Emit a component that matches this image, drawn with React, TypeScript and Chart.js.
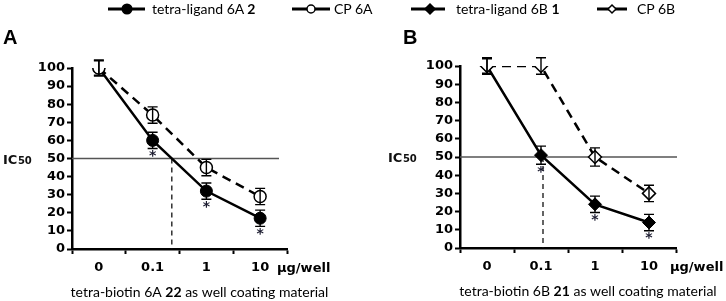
import React, { useEffect, useRef } from 'react';
import { Chart, registerables } from 'chart.js';
Chart.register(...registerables);

// ---- data ----
const categories = ['0', '0.1', '1', '10'];
const ligand6A = [100, 60, 32, 17];
const ligand6AErr = [4, 4.5, 4.5, 4.5];
const cp6A = [100, 74, 45, 29];
const cp6AErr = [4.5, 4.5, 4.5, 4.5];
const ligand6B = [100, 51, 24, 14];
const ligand6BErr = [4, 5, 4.5, 4.5];
const cp6B = [100, 100, 50, 30];
const cp6BErr = [4.5, 4.5, 5, 4.5];
const sig6A = [false, true, true, true];
const sig6B = [false, true, true, true];
const IC50 = 50;
const yMin = 0;
const yMax = 100;
const yStep = 10;
const unitLabel = 'µg/well';
const titleA = ['tetra-biotin 6A ', '22', ' as well coating material'];
const titleB = ['tetra-biotin 6B ', '21', ' as well coating material'];
const legendItems = [
  { text: 'tetra-ligand 6A ', bold: '2', shape: 'circle', filled: true },
  { text: 'CP 6A', bold: '', shape: 'circle', filled: false },
  { text: 'tetra-ligand 6B ', bold: '1', shape: 'diamond', filled: true },
  { text: 'CP 6B', bold: '', shape: 'diamond', filled: false },
];

// ---- layout (styles / positions) ----
const legendMarkerLeft = [108, 292, 411, 597];
const legendMarkerWidth = [37, 38, 34, 30];
const legendMarkerCenter = [19, 19, 19, 15];
const legendTextLeft = [152, 334, 456, 637];
const TICK_FONT = { family: 'DejaVu Sans', size: 13, weight: 'bold' as const };

function crossingIndex(vals: number[], level: number) {
  for (let i = 0; i < vals.length - 1; i++) {
    if (vals[i] >= level && vals[i + 1] < level) {
      return i + (vals[i] - level) / (vals[i] - vals[i + 1]);
    }
  }
  return 0;
}

function drawParts(ctx: CanvasRenderingContext2D, parts: string[], cx: number, cy: number, size: number) {
  const fonts = parts.map((_, i) => `${i === 1 ? 'bold ' : ''}${size}px Lato`);
  const widths = parts.map((p, i) => { ctx.font = fonts[i]; return ctx.measureText(p).width; });
  const total = widths.reduce((a, b) => a + b, 0);
  let x = cx - total / 2;
  ctx.textBaseline = 'middle';
  ctx.textAlign = 'left';
  parts.forEach((p, i) => { ctx.font = fonts[i]; ctx.fillText(p, x, cy); x += widths[i]; });
}

function makeDecor(cfg: any) {
  return {
    id: 'decor',
    beforeDatasetsDraw(chart: any) {
      const { ctx, chartArea: a, scales } = chart;
      const x = scales.x, y = scales.y;
      const yy = y.getPixelForValue(IC50);
      ctx.save();
      ctx.strokeStyle = '#555';
      ctx.lineWidth = 1.5;
      ctx.beginPath();
      ctx.moveTo(a.left, yy);
      ctx.lineTo(a.right + cfg.icExtra, yy);
      ctx.stroke();
      const xx = x.getPixelForValue(crossingIndex(cfg.solid, IC50));
      ctx.setLineDash([5, 4]);
      ctx.lineWidth = 1.3;
      ctx.strokeStyle = '#111';
      ctx.beginPath();
      ctx.moveTo(xx, yy);
      ctx.lineTo(xx, a.bottom);
      ctx.stroke();
      ctx.restore();
    },
    afterDatasetsDraw(chart: any) {
      const { ctx, chartArea: a, scales } = chart;
      const y = scales.y;
      ctx.save();
      ctx.strokeStyle = '#000';
      ctx.lineWidth = 1.4;
      chart.data.datasets.forEach((ds: any, di: number) => {
        const meta = chart.getDatasetMeta(di);
        meta.data.forEach((pt: any, i: number) => {
          const v = ds.data[i];
          const e = ds.errors[i];
          const top = y.getPixelForValue(v + e);
          const bot = y.getPixelForValue(v - e);
          ctx.beginPath();
          ctx.moveTo(pt.x, top); ctx.lineTo(pt.x, bot);
          ctx.moveTo(pt.x - 5, top); ctx.lineTo(pt.x + 5, top);
          ctx.moveTo(pt.x - 5, bot); ctx.lineTo(pt.x + 5, bot);
          ctx.stroke();
        });
      });
      // asterisks (solid series = dataset 1)
      const m0 = chart.getDatasetMeta(1);
      const ds0 = chart.data.datasets[1];
      ctx.fillStyle = '#1a1a2e';
      ctx.font = 'bold 14px "DejaVu Sans"';
      ctx.textAlign = 'center';
      ctx.textBaseline = 'top';
      cfg.sig.forEach((s: boolean, i: number) => {
        if (!s) return;
        const pt = m0.data[i];
        const bot = y.getPixelForValue(ds0.data[i] - ds0.errors[i]);
        ctx.fillText('*', pt.x, bot + 1);
      });
      // texts
      ctx.fillStyle = '#000';
      ctx.textAlign = 'left';
      ctx.textBaseline = 'alphabetic';
      ctx.font = 'bold 20px "Liberation Sans"';
      ctx.fillText(cfg.letter, cfg.letterX, 44);
      const yy = y.getPixelForValue(IC50);
      ctx.fillStyle = '#111';
      ctx.font = 'bold 13px "DejaVu Sans"';
      ctx.fillText('IC', cfg.icX, yy + 5);
      const w = ctx.measureText('IC').width;
      ctx.font = 'bold 10px "DejaVu Sans"';
      ctx.fillText('50', cfg.icX + w + 0.5, yy + 5);
      ctx.fillStyle = '#000';
      ctx.textBaseline = 'middle';
      ctx.font = 'bold 13px "DejaVu Sans"';
      ctx.fillText(unitLabel, a.right + cfg.unitDx, a.bottom + 20);
      drawParts(ctx, cfg.title, (a.left + a.right) / 2 + 20, a.bottom + 43, 14);
      ctx.restore();
    },
  };
}

function buildChart(canvas: HTMLCanvasElement, solid: number[], solidErr: number[], dashed: number[], dashedErr: number[], diamond: boolean, cfg: any) {
  const style = diamond ? 'rectRot' : 'circle';
  return new Chart(canvas, {
    type: 'line',
    data: {
      labels: categories,
      datasets: [
        {
          data: dashed, errors: dashedErr,
          borderColor: '#000', borderWidth: 2.5, borderDash: [9, 6], backgroundColor: '#fff',
          pointStyle: style, pointRadius: diamond ? 6.5 : 6, pointBackgroundColor: '#fff', pointBorderColor: '#000', pointBorderWidth: 1.5,
          tension: 0,
        } as any,
        {
          data: solid, errors: solidErr,
          borderColor: '#000', borderWidth: 2.5, backgroundColor: '#000',
          pointStyle: style, pointRadius: diamond ? 6.5 : 6, pointBackgroundColor: '#000', pointBorderColor: '#000', pointBorderWidth: 1,
          tension: 0,
        } as any,
      ],
    },
    options: {
      animation: false,
      responsive: false,
      events: [],
      layout: { padding: { left: 0, right: cfg.padRight, top: cfg.padTop, bottom: 0 } },
      plugins: { legend: { display: false }, tooltip: { enabled: false }, title: { display: false } },
      scales: {
        x: {
          type: 'category',
          offset: true,
          grid: { offset: true, drawOnChartArea: false, drawTicks: true, tickLength: 5, tickColor: '#000', tickWidth: 2 },
          border: { color: '#000', width: 2.5 },
          ticks: { color: '#000', font: TICK_FONT, padding: 6, maxRotation: 0, autoSkip: false },
          afterFit: (s: any) => { s.height = cfg.xHeight; },
        },
        y: {
          min: yMin, max: yMax,
          grid: { drawOnChartArea: false, drawTicks: true, tickLength: 5, tickColor: '#000', tickWidth: 2 },
          border: { color: '#000', width: 2.5 },
          ticks: { stepSize: yStep, color: '#000', font: TICK_FONT, padding: 2, autoSkip: false },
          afterFit: (s: any) => { s.width = cfg.yWidth; },
        },
      },
    } as any,
    plugins: [makeDecor({ ...cfg, solid })],
  });
}

function Marker({ shape, filled, w, c }: { shape: string; filled: boolean; w: number; c: number }) {
  const h = filled ? 5 : 4;
  return (
    <svg width={w} height={14} style={{ display: 'block' }}>
      <line x1={0} y1={7} x2={w} y2={7} stroke="#000" strokeWidth={3} />
      {shape === 'circle' ? (
        <circle cx={c} cy={7} r={filled ? 4.8 : 4} fill={filled ? '#000' : '#fff'} stroke="#000" strokeWidth={1.5} />
      ) : (
        <polygon points={`${c},${7 - h} ${c + h},7 ${c},${7 + h} ${c - h},7`} fill={filled ? '#000' : '#fff'} stroke="#000" strokeWidth={1.5} />
      )}
    </svg>
  );
}

export default function App() {
  const refA = useRef<HTMLCanvasElement>(null);
  const refB = useRef<HTMLCanvasElement>(null);
  useEffect(() => {
    const a = buildChart(refA.current!, ligand6A, ligand6AErr, cp6A, cp6AErr, false, {
      padRight: 76, padTop: 68, xHeight: 52, yWidth: 72, letter: 'A', letterX: 3, icX: 3, icExtra: -8, unitDx: -10, sig: sig6A, title: titleA,
    });
    const b = buildChart(refB.current!, ligand6B, ligand6BErr, cp6B, cp6BErr, true, {
      padRight: 50, padTop: 66, xHeight: 53, yWidth: 97, letter: 'B', letterX: 40, icX: 25, icExtra: 1, unitDx: -6, sig: sig6B, title: titleB,
    });
    return () => { a.destroy(); b.destroy(); };
  }, []);
  return (
    <div style={{ position: 'fixed', left: 0, top: 0, width: 726, height: 301, background: '#fff', overflow: 'hidden' }}>
      <canvas ref={refA} width={363} height={301} style={{ position: 'absolute', left: 0, top: 0 }} />
      <canvas ref={refB} width={363} height={301} style={{ position: 'absolute', left: 363, top: 0 }} />
      {legendItems.map((it, i) => (
        <React.Fragment key={i}>
          <div style={{ position: 'absolute', left: legendMarkerLeft[i], top: 2 }}>
            <Marker shape={it.shape} filled={it.filled} w={legendMarkerWidth[i]} c={legendMarkerCenter[i]} />
          </div>
          <div style={{ position: 'absolute', left: legendTextLeft[i], top: 0, fontFamily: 'Lato', fontSize: 14, lineHeight: '18px', color: '#000', whiteSpace: 'pre' }}>
            {it.text}
            {it.bold ? <b>{it.bold}</b> : null}
          </div>
        </React.Fragment>
      ))}
    </div>
  );
}
